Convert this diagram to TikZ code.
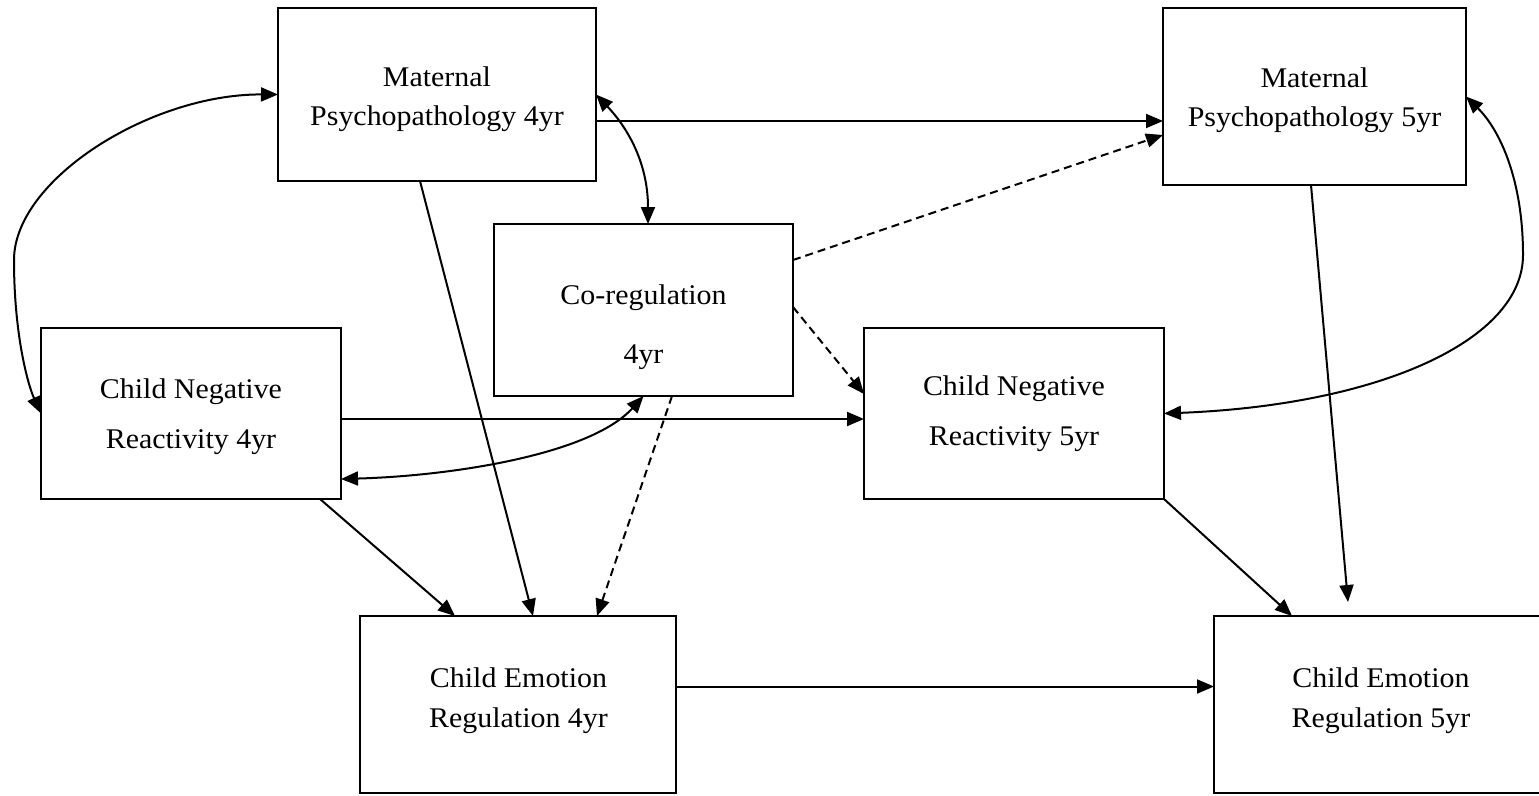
\documentclass[tikz,border=0pt]{standalone}
\usepackage{fontspec}
\setmainfont{Liberation Serif}[FakeStretch=1.05]
\usetikzlibrary{arrows.meta}
\begin{document}
\begin{tikzpicture}[x=1pt,y=-1pt,
  box/.style={draw, line width=2pt, rectangle, inner sep=0pt, outer sep=0pt},
  lbl/.style={align=center, inner sep=0pt, font=\fontsize{28.5pt}{#1}\selectfont},
  link/.style={line width=2pt},
  arr/.style={link, -{Triangle[length=17pt,width=14pt]}},
  dbl/.style={link, {Triangle[length=17pt,width=14pt]}-{Triangle[length=17pt,width=14pt]}},
  dsh/.style={dash pattern=on 8pt off 5pt}]
\useasboundingbox (0,0) rectangle (1539,795);

% boxes
\node[box, minimum width=318pt, minimum height=173pt] (mp4)   at (437,94.5) {};
\node[box, minimum width=303pt, minimum height=177pt] (mp5)   at (1314.5,96.5) {};
\node[box, minimum width=299pt, minimum height=172pt] (coreg) at (643.5,310) {};
\node[box, minimum width=300pt, minimum height=171pt] (cnr4)  at (191,413.5) {};
\node[box, minimum width=300pt, minimum height=171pt] (cnr5)  at (1014,413.5) {};
\node[box, minimum width=316pt, minimum height=177pt] (cer4)  at (518,704.5) {};
\node[box, minimum width=328pt, minimum height=177pt] (cer5)  at (1378,704.5) {};

% labels
\node[lbl=39pt] (tmp4)   at (437,99)     {Maternal\\Psychopathology 4yr};
\node[lbl=39pt] (tmp5)   at (1314.5,100) {Maternal\\Psychopathology 5yr};
\node[lbl=59pt] (tcoreg) at (643.5,327.5){Co-regulation\\4yr};
\node[lbl=50pt] (tcnr4)  at (191,416.5)  {Child Negative\\Reactivity 4yr};
\node[lbl=50pt] (tcnr5)  at (1014,414)   {Child Negative\\Reactivity 5yr};
\node[lbl=40pt] (tcer4)  at (518.5,700.5){Child Emotion\\Regulation 4yr};
\node[lbl=40pt] (tcer5)  at (1381,700.5) {Child Emotion\\Regulation 5yr};

% directed paths
\draw[arr] ([yshift=-26.5pt]mp4.east) -- ([yshift=-24.5pt]mp5.west);
\draw[arr] ([xshift=142pt]mp4.south west) -- ([xshift=173pt]cer4.north west);
\draw[arr] ([yshift=-5.5pt]cnr4.east) -- ([yshift=-5.5pt]cnr5.west);
\draw[arr] ([xshift=-21pt]cnr4.south east) -- ([xshift=95pt]cer4.north west);
\draw[arr] (cnr5.south east) -- ([xshift=78pt]cer5.north west);
\draw[arr] ([xshift=148pt]mp5.south west) -- ([xshift=134pt,yshift=14pt]cer5.north west);
\draw[arr] ([yshift=18pt]cer4.east) -- ([yshift=18pt]cer5.west);

% co-regulation paths (dashed)
\draw[arr,dsh] ([yshift=50pt]coreg.east) -- ([yshift=-38.5pt]mp5.west);
\draw[arr,dsh] ([yshift=3pt]coreg.east) -- ([yshift=19.5pt]cnr5.west);
\draw[arr,dsh] ([xshift=178pt]coreg.south west) -- ([xshift=237pt]cer4.north west);

% covariances
\draw[dbl] (mp4.west) .. controls (150,94) and (14,180) .. (14,260)
           .. controls (14,335) and (28,385) .. (cnr4.west);
\draw[dbl] (mp4.east) .. controls (625,125) and (648,160) .. ([xshift=4.5pt]coreg.north);
\draw[dbl] ([yshift=-65.5pt]cnr4.east) .. controls (450,476) and (590,455) .. (coreg.south);
\draw[dbl] (mp5.east) .. controls (1500,130) and (1523,180) .. (1523,255)
           .. controls (1523,340) and (1380,405) .. (cnr5.east);
\end{tikzpicture}
\end{document}
